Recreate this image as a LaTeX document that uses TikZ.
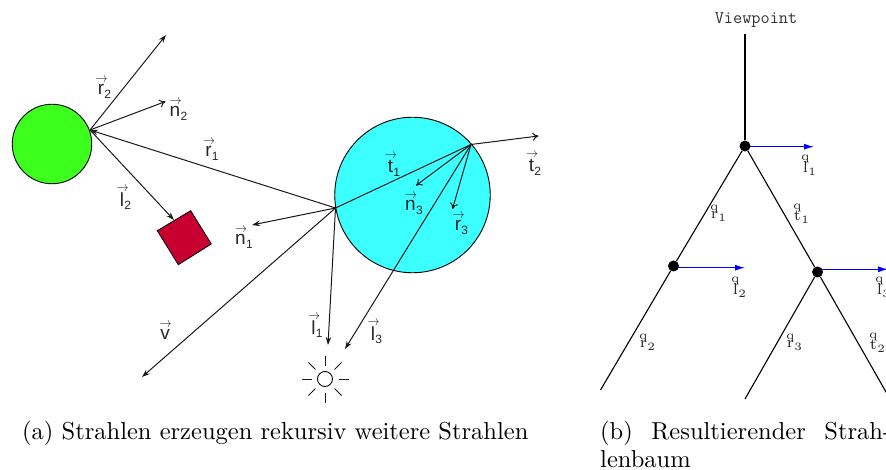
\documentclass[tikz,border=0pt]{standalone}
\usepackage{fontspec}
\usepackage{graphicx}
\newfontfamily\labfont{Liberation Sans}
\usetikzlibrary{arrows.meta,calc,backgrounds}
\definecolor{ballgreen}{HTML}{3CFF1E}
\definecolor{ballcyan}{HTML}{3CFFFF}
\definecolor{boxred}{HTML}{C80032}
\newcommand{\vv}[1]{{\labfont\fontsize{19}{19}\selectfont
  \vbox{\offinterlineskip\halign{\hfil##\hfil\cr
    \hbox to 0pt{\hss\resizebox{12pt}{5pt}{$\rightarrow$}\kern-1pt\hss}\cr\noalign{\kern1.5pt}
    \hbox{#1}\cr}}}}
\newcommand{\vl}[2]{\hbox{\vv{#1}\kern0.3pt\raisebox{-3.5pt}{\labfont\fontsize{12}{12}\selectfont #2}}}
\newcommand{\tl}[2]{\scalebox{2.25}{\fontsize{7}{7}\selectfont
  \hbox{\vbox{\offinterlineskip\halign{\hfil##\hfil\cr
    \hbox to 0pt{\hss\fontsize{5.5}{5.5}\selectfont q\hss}\cr\noalign{\kern-0.5pt}
    \hbox{#1}\cr}}\kern0.2pt\raisebox{-1.2pt}{\fontsize{5}{5}\selectfont #2}}}}
\newcommand{\capt}[1]{\scalebox{2.45}{\fontsize{10}{12}\selectfont #1}}
\tikzset{
  ray/.style={black!90,line width=1pt},
  solid tip/.style={ray,-{Stealth[length=8pt,width=5.5pt]}},
  open tip/.style={ray,-{To[length=6pt,width=8pt]}},
  lab/.style={inner sep=0pt,black!85},
  tree/.style={black,line width=1.1pt},
  lightray/.style={blue,line width=1.1pt,-{Latex[length=10pt,width=6pt]}},
  joint/.style={circle,fill=black,inner sep=0pt,minimum size=11pt},
  ball/.style={circle,draw=black,line width=0.9pt,inner sep=0pt},
  caption/.style={inner sep=0pt,anchor=base west,black},
  sunray/.style={line width=0.9pt,black!90}
}
\begin{document}
\begin{tikzpicture}[x=1pt,y=-1pt]
\useasboundingbox (0,0) rectangle (886,470);
% objects
\node[ball,fill=ballgreen,minimum size=79.5pt] (green) at (52,144) {};
\node[ball,fill=ballcyan,minimum size=155.5pt] (cyanball) at (412.5,195) {};
\draw[line width=0.8pt,fill=boxred] (157.3,230.7) coordinate (sqa) -- (190.7,210.7) coordinate (sqb) -- (211.3,244) -- (178.3,264.7) -- cycle;
% ray points
\coordinate (A) at (90,130);
\coordinate (B) at (335.5,208);
\coordinate (C) at (471,144.5);
\coordinate (r2end) at (166,35);
\coordinate (n2end) at (165.5,101.5);
\coordinate (l2end) at (174,220);
\coordinate (n1end) at (252,225);
\coordinate (vend) at (142,377);
\coordinate (l1end) at (328,345);
\coordinate (l3end) at (345,349);
\coordinate (t2end) at (538.5,136);
\coordinate (n3end) at (416,185.5);
\coordinate (r3end) at (452.5,209);
\draw[solid tip] (A) -- (r2end);
\draw[open tip] (A) -- (n2end);
\draw[solid tip] (B) -- (A);
\draw[solid tip] (A) -- (l2end);
\draw[solid tip] (B) -- (n1end);
\draw[solid tip] (B) -- (vend);
\draw[solid tip] (B) -- (l1end);
\draw[ray] (B) -- (C);
\draw[solid tip] (C) -- (l3end);
\draw[open tip] (C) -- (t2end);
\draw[open tip] (C) -- (n3end);
\draw[open tip] (C) -- (r3end);
% sun
\node[circle,draw=black,line width=0.9pt,inner sep=0pt,minimum size=15pt] (sun) at (325,379) {};
\foreach \a in {0,45,...,315}
  \draw[sunray] ($(sun)+(\a:13.5)$) -- ($(sun)+(\a:23.5)$);
% left labels
\node[lab] (lr2) at (104.5,88) {\vl{r}{2}};
\node[lab] (ln2) at (178.5,110) {\vl{n}{2}};
\node[lab] (lr1) at (212,150) {\vl{r}{1}};
\node[lab] (ll2) at (125.5,198) {\vl{l}{2}};
\node[lab] (ln1) at (244,238) {\vl{n}{1}};
\node[lab] (lv) at (165,331) {\vv{v}};
\node[lab] (lt1) at (394,165) {\vl{t}{1}};
\node[lab] (lt2) at (535,164) {\vl{t}{2}};
\node[lab] (ln3) at (414,204) {\vl{n}{3}};
\node[lab] (lr3) at (461.5,224) {\vl{r}{3}};
\node[lab] (ll1) at (317,326) {\vl{l}{1}};
\node[lab] (ll3) at (376.5,332) {\vl{l}{3}};
% tree
\node[inner sep=0pt,black!80,font=\ttfamily\fontsize{17.8}{18}\selectfont] (vp) at (756,20) {Viewpoint};
\coordinate (top) at (745,34);
\node[joint] (j1) at (745,146) {};
\node[joint] (j2) at (673.5,266) {};
\node[joint] (j3) at (817.5,272) {};
\coordinate (e2) at (600.5,390);
\coordinate (e3) at (745,399);
\coordinate (e4) at (890,399);
\coordinate (b1) at (814,146.7);
\coordinate (b2) at (745,267.7);
\coordinate (b3) at (888,269.3);
\begin{scope}[on background layer]
\draw[tree] (top) -- (j1);
\draw[tree] (j1) -- (j2);
\draw[tree] (j1) -- (j3);
\draw[tree] (j2) -- (e2);
\draw[tree] (j3) -- (e3);
\draw[tree] (j3) -- (e4);
\draw[lightray] (j1.center |- b1) -- (b1);
\draw[lightray] (j2.center |- b2) -- (b2);
\draw[lightray] (j3.center |- b3) -- (b3);
\end{scope}
\node[lab] (tl1) at (809.5,165.5) {\tl{l}{1}};
\node[lab] (tr1) at (718.5,213.5) {\tl{r}{1}};
\node[lab] (tt1) at (801.5,213.5) {\tl{t}{1}};
\node[lab] (tl2) at (739.5,287.5) {\tl{l}{2}};
\node[lab] (tr2) at (647.5,342.5) {\tl{r}{2}};
\node[lab] (tr3) at (794.5,342.5) {\tl{r}{3}};
\node[lab] (tt2) at (877.5,342.5) {\tl{t}{2}};
\node[lab] (tl3) at (883.5,287.5) {\tl{l}{3}};
% captions
\node[caption] (capa) at (22,439) {\capt{(a) Strahlen erzeugen rekursiv weitere Strahlen}};
\node[caption] (capb1) at (600,439) {\capt{\hbox to 118.8pt{(b)\hfill Resultierender\hfill Strah-}}};
\node[caption] (capb2) at (600,467.7) {\capt{lenbaum}};
\end{tikzpicture}
\end{document}
